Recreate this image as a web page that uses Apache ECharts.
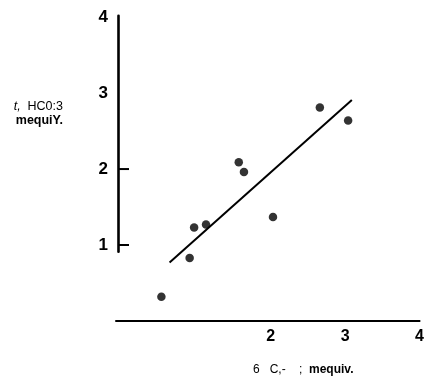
<!DOCTYPE html>
<html>
<head>
<meta charset="utf-8">
<script src="https://cdn.jsdelivr.net/npm/echarts@6/dist/echarts.min.js"></script>
<style>
html,body{margin:0;padding:0;background:#fff;}
#chart{width:427px;height:380px;}
</style>
</head>
<body>
<div id="chart"></div>
<script>
// Data
var xValues = [0.53, 0.91, 0.97, 1.13, 1.57, 1.64, 2.03, 2.66, 3.04];
var yValues = [0.32, 0.83, 1.23, 1.27, 2.09, 1.96, 1.37, 2.81, 2.64];
var fitX = [0.64, 3.09];
var fitY = [0.77, 2.91];
var xTickLabels = ['2', '3', '4'];
var yTickLabels = ['1', '2', '3', '4'];
var yTickMarks = [1, 2];
var yNameItalic = 't,';
var yNameLine1 = '  HC0:3';
var yNameLine2 = 'mequiY.';
var xNamePart1 = '6   C,-    ;  ';
var xNamePart2 = 'mequiv.';

var FONT = '"Liberation Sans", Arial, sans-serif';

var points = xValues.map(function (x, i) { return [x, yValues[i]]; });
var fitLine = fitX.map(function (x, i) { return [x, fitY[i]]; });

var chart = echarts.init(document.getElementById('chart'), null, {renderer: 'canvas'});
chart.setOption({
  backgroundColor: '#fff',
  animation: false,
  grid: [
    {left: 116, right: 5, top: 17.1, bottom: 59},
    {left: 118, width: 1, top: 15.7, bottom: 128.3}
  ],
  xAxis: [
    {
      gridIndex: 0, type: 'value', min: -0.08, max: 4, splitNumber: 4,
      axisLine: {show: true, onZero: false, lineStyle: {color: '#000', width: 2}},
      axisTick: {show: false},
      splitLine: {show: false},
      axisLabel: {
        show: true, margin: 8, color: '#000', fontFamily: FONT, fontWeight: 'bold', fontSize: 16,
        showMinLabel: true, showMaxLabel: true,
        formatter: function (v) {
          var s = String(Math.round(v * 100) / 100);
          return xTickLabels.indexOf(s) >= 0 ? s : '';
        }
      }
    },
    {gridIndex: 1, type: 'value', show: false, min: 0, max: 1}
  ],
  yAxis: [
    {
      gridIndex: 0, type: 'value', min: 0, max: 4, interval: 1,
      axisLine: {show: false},
      axisTick: {show: false},
      splitLine: {show: false},
      axisLabel: {
        show: true, margin: 8, color: '#000', fontFamily: FONT, fontWeight: 'bold', fontSize: 17,
        formatter: function (v) {
          var s = String(v);
          return yTickLabels.indexOf(s) >= 0 ? s : '';
        }
      }
    },
    {
      gridIndex: 1, type: 'value', min: 0, max: 1,
      axisLine: {show: true, onZero: false, lineStyle: {color: '#000', width: 2.6}},
      axisTick: {show: false},
      axisLabel: {show: false},
      splitLine: {show: false}
    }
  ],
  series: [
    {
      type: 'line',
      xAxisIndex: 0, yAxisIndex: 0,
      data: fitLine,
      showSymbol: false,
      symbol: 'none',
      lineStyle: {color: '#000', width: 2},
      silent: true
    },
    {
      type: 'scatter',
      xAxisIndex: 0, yAxisIndex: 0,
      data: points,
      symbol: 'circle',
      symbolSize: 8.5,
      itemStyle: {color: '#000'},
      silent: true
    },
    {
      type: 'custom',
      xAxisIndex: 0, yAxisIndex: 0,
      data: yTickMarks.map(function (v) { return [0, v]; }),
      silent: true,
      renderItem: function (params, api) {
        var p = api.coord([0, api.value(1)]);
        var x0 = params.coordSys.x + 2;
        return {
          type: 'line',
          shape: {x1: x0, y1: p[1], x2: x0 + 11, y2: p[1]},
          style: {stroke: '#000', lineWidth: 2}
        };
      }
    }
  ],
  graphic: [
    {
      type: 'text', right: 427 - 63, top: 100,
      style: {
        text: '{i|' + yNameItalic + '}{n|' + yNameLine1 + '}',
        textAlign: 'right',
        rich: {
          i: {fontFamily: FONT, fontSize: 12.5, fontStyle: 'italic', color: '#000'},
          n: {fontFamily: FONT, fontSize: 12.5, color: '#000'}
        }
      }
    },
    {
      type: 'text', right: 427 - 63, top: 114,
      style: {
        text: yNameLine2, fill: '#000', font: 'bold 12.5px ' + FONT, textAlign: 'right'
      }
    },
    {
      type: 'text', left: 253, top: 364,
      style: {
        text: '{n|' + xNamePart1 + '}{b|' + xNamePart2 + '}',
        rich: {
          n: {fontFamily: FONT, fontSize: 12, color: '#000'},
          b: {fontFamily: FONT, fontSize: 12, fontWeight: 'bold', color: '#000'}
        }
      }
    }
  ]
});
</script>
</body>
</html>
